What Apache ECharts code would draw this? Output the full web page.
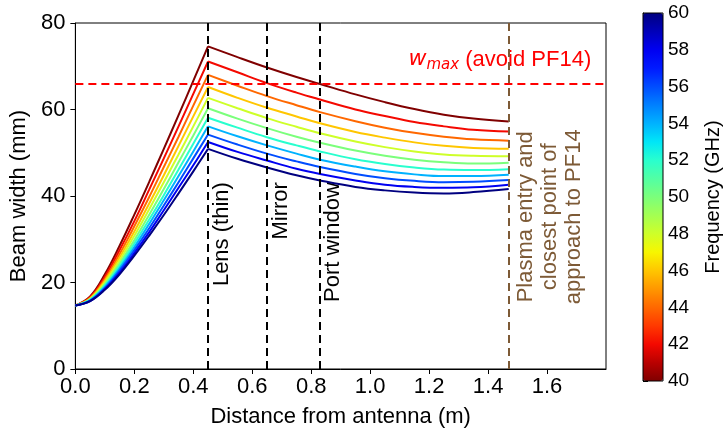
<!DOCTYPE html>
<html>
<head>
<meta charset="utf-8">
<script src="https://cdn.jsdelivr.net/npm/echarts@6/dist/echarts.min.js"></script>
<style>
html, body { margin: 0; padding: 0; background: #fff; }
#chart { width: 728px; height: 437px; }
</style>
</head>
<body>
<div id="chart"></div>
<script>
// frequencies (GHz) and the jet colour each line is drawn in
var freqs = [40, 42, 44, 46, 48, 50, 52, 54, 56, 58, 60];
var lineColors = ['#800000', '#f40900', '#ff6800', '#ffc600', '#ceff29', '#7bff7b',
                  '#29ffce', '#00b2ff', '#004dff', '#0000f1', '#000080'];

// antenna -> lens
var xRise = [0, 0.05, 0.1, 0.15, 0.2, 0.25, 0.3, 0.35, 0.4, 0.45];
var widthRise = [
    [14.7, 16.8, 21.9, 28.5, 35.7, 43.2, 50.9, 58.7, 66.6, 74.6],
    [14.7, 16.6, 21.3, 27.5, 34.2, 41.4, 48.7, 56.1, 63.6, 71.1],
    [14.7, 16.4, 20.8, 26.6, 33.0, 39.7, 46.7, 53.7, 60.9, 68.0],
    [14.7, 16.3, 20.4, 25.8, 31.8, 38.2, 44.8, 51.6, 58.4, 65.2],
    [14.7, 16.2, 20.0, 25.1, 30.8, 36.9, 43.2, 49.6, 56.1, 62.7],
    [14.7, 16.1, 19.6, 24.4, 29.8, 35.6, 41.6, 47.8, 54.0, 60.3],
    [14.7, 16.0, 19.3, 23.8, 29.0, 34.5, 40.2, 46.1, 52.1, 58.1],
    [14.7, 15.9, 19.0, 23.3, 28.2, 33.5, 39.0, 44.6, 50.3, 56.1],
    [14.7, 15.8, 18.7, 22.8, 27.5, 32.5, 37.8, 43.2, 48.7, 54.2],
    [14.7, 15.7, 18.5, 22.3, 26.8, 31.6, 36.7, 41.9, 47.1, 52.5],
    [14.7, 15.7, 18.3, 21.9, 26.2, 30.8, 35.6, 40.6, 45.7, 50.9]
];

// lens -> plasma entry
var xFall = [0.45, 0.55, 0.65, 0.75, 0.83, 0.95, 1.05, 1.15, 1.25, 1.35, 1.47];
var widthFall = [
    [74.6, 72.1, 69.7, 67.5, 65.9, 63.5, 61.7, 60.1, 58.8, 57.9, 57.2],
    [71.1, 68.6, 66.1, 63.9, 62.3, 60.0, 58.5, 57.1, 56.1, 55.3, 54.9],
    [68.0, 65.5, 63.1, 61.0, 59.4, 57.3, 55.8, 54.6, 53.7, 53.1, 52.8],
    [65.2, 62.7, 60.4, 58.4, 56.8, 54.8, 53.5, 52.4, 51.6, 51.1, 50.9],
    [62.7, 60.3, 58.0, 56.0, 54.5, 52.6, 51.3, 50.3, 49.6, 49.3, 49.2],
    [60.3, 57.9, 55.7, 53.7, 52.3, 50.5, 49.3, 48.4, 47.8, 47.5, 47.7],
    [58.1, 55.8, 53.6, 51.7, 50.3, 48.5, 47.4, 46.6, 46.1, 46.0, 46.2],
    [56.1, 53.8, 51.7, 49.8, 48.4, 46.8, 45.7, 45.0, 44.6, 44.6, 44.9],
    [54.2, 51.9, 49.8, 48.0, 46.7, 45.1, 44.1, 43.5, 43.2, 43.3, 43.7],
    [52.5, 50.2, 48.2, 46.3, 45.1, 43.6, 42.6, 42.1, 41.9, 42.0, 42.6],
    [50.9, 48.6, 46.6, 44.8, 43.6, 42.1, 41.3, 40.8, 40.6, 40.9, 41.6]
];

var lensX = 0.45, mirrorX = 0.65, portX = 0.83, plasmaX = 1.47;
var wMax = 66;

// jet colormap, 40 GHz (bottom) -> 60 GHz (top)
var barColors = ['#800000', '#b90000', '#f40900', '#ff3900', '#ff6800', '#ff9700', '#ffc600',
                 '#f7f600', '#ceff29', '#a4ff52', '#7bff7b', '#52ffa4', '#29ffce', '#00e6f7',
                 '#00b2ff', '#0080ff', '#004dff', '#001aff', '#0000f1', '#0000b9', '#000080'];

var FONT = 'Liberation Sans, Arial, sans-serif';
var brown = '#7d5a36';

var myChart = echarts.init(document.getElementById('chart'));

function pairs(xs, ys) {
    var res = [];
    for (var i = 0; i < xs.length; i++) res.push([xs[i], ys[i]]);
    return res;
}

var series = [];
freqs.forEach(function (f, i) {
    [[xRise, widthRise[i]], [xFall, widthFall[i]]].forEach(function (seg) {
        series.push({
            name: f + ' GHz',
            type: 'line',
            xAxisIndex: 0,
            yAxisIndex: 0,
            data: pairs(seg[0], seg[1]),
            smooth: 0.4,
            showSymbol: false,
            silent: true,
            lineStyle: {color: lineColors[i], width: 2},
            itemStyle: {color: lineColors[i]}
        });
    });
});

function vline(x, color) {
    return {xAxis: x, lineStyle: {color: color, type: [8, 5], width: 2}};
}

series.push({
    type: 'line',
    data: [],
    z: 10,
    silent: true,
    markLine: {
        symbol: 'none',
        silent: true,
        label: {show: false},
        animation: false,
        data: [
            vline(lensX, '#000'),
            vline(mirrorX, '#000'),
            vline(portX, '#000'),
            vline(plasmaX, brown),
            {yAxis: wMax, lineStyle: {color: '#ff0000', type: [8, 5], width: 2}}
        ]
    }
});

option = {
    animation: false,
    textStyle: {fontFamily: FONT},
    grid: [
        {left: 73, top: 23, width: 533, height: 346, show: true, borderColor: '#000', borderWidth: 1, containLabel: false},
        {left: 643, top: 13, width: 20, height: 368, show: true, borderColor: '#000', borderWidth: 1, z: 5, containLabel: false}
    ],
    xAxis: [
        {
            type: 'value', gridIndex: 0, min: 0, max: 1.8, interval: 0.2,
            name: 'Distance from antenna (m)', nameLocation: 'middle', nameGap: 37,
            nameTextStyle: {fontSize: 22, color: '#000', fontFamily: FONT},
            axisLine: {lineStyle: {color: '#000', width: 1}},
            axisTick: {show: true, inside: false, length: 5, lineStyle: {color: '#000'}},
            axisLabel: {fontSize: 22, color: '#000', margin: 7, showMaxLabel: false, fontFamily: FONT,
                formatter: function (v) { return v.toFixed(1); }},
            splitLine: {show: false}
        },
        {type: 'value', gridIndex: 1, min: 0, max: 1, show: false}
    ],
    yAxis: [
        {
            type: 'value', gridIndex: 0, min: 0, max: 80, interval: 20,
            name: 'Beam width (mm)', nameLocation: 'middle', nameGap: 44,
            nameTextStyle: {fontSize: 22, color: '#000', fontFamily: FONT},
            axisLine: {show: true, lineStyle: {color: '#000', width: 1}},
            axisTick: {show: true, inside: false, length: 5, lineStyle: {color: '#000'}},
            axisLabel: {fontSize: 22, color: '#000', margin: 10, fontFamily: FONT},
            splitLine: {show: false}
        },
        {
            type: 'value', gridIndex: 1, min: 40, max: 60, interval: 2, position: 'right',
            name: 'Frequency (GHz)', nameLocation: 'middle', nameGap: 40, nameRotate: 90,
            nameTextStyle: {fontSize: 20, color: '#000', fontFamily: FONT},
            axisLine: {show: true, lineStyle: {color: '#000', width: 1}},
            axisTick: {show: true, inside: false, length: 5, lineStyle: {color: '#000'}},
            axisLabel: {fontSize: 19, color: '#000', margin: 5, fontFamily: FONT},
            splitLine: {show: false}
        }
    ],
    visualMap: {
        type: 'continuous',
        min: 40,
        max: 60,
        seriesIndex: [],
        calculable: false,
        hoverLink: false,
        left: 643,
        top: 13,
        padding: 0,
        itemWidth: 20,
        itemHeight: 368,
        z: 1,
        inRange: {color: barColors}
    },
    series: series
};

myChart.setOption(option);

// annotations anchored to data positions
function px(x, y) { return myChart.convertToPixel({gridIndex: 0}, [x, y]); }
var noteTop = 43.2;
var pLens = px(lensX, noteTop), pMirror = px(mirrorX, noteTop), pPort = px(portX, noteTop);
var pPlasma = px(plasmaX, 35.2);
var pW = px(1.13, 68.5);

function vtext(p, dx, txt, color, align) {
    return {
        type: 'text', x: p[0] + dx, y: p[1], rotation: Math.PI / 2, silent: true,
        style: {text: txt, fill: color, font: '22px ' + FONT, align: align, verticalAlign: 'middle'}
    };
}

myChart.setOption({
    graphic: [
        vtext(pLens, 14, 'Lens (thin)', '#000', 'right'),
        vtext(pMirror, 14, 'Mirror', '#000', 'right'),
        vtext(pPort, 13, 'Port window', '#000', 'right'),
        {
            type: 'text', x: pPlasma[0] + 41, y: pPlasma[1], rotation: Math.PI / 2, silent: true,
            style: {text: 'Plasma entry and\nclosest point of\napproach to PF14', fill: brown,
                font: '22px ' + FONT, align: 'center', verticalAlign: 'middle', lineHeight: 24}
        },
        {
            type: 'text', x: pW[0], y: pW[1], silent: true,
            style: {
                text: '{w|w}{s|max}{n| (avoid PF14)}',
                align: 'left', verticalAlign: 'bottom',
                rich: {
                    w: {fill: '#ff0000', font: 'italic 22px DejaVu Sans', lineHeight: 26},
                    s: {fill: '#ff0000', font: 'italic 15px DejaVu Sans', lineHeight: 15, verticalAlign: 'bottom'},
                    n: {fill: '#ff0000', font: '22px ' + FONT, lineHeight: 26}
                }
            }
        }
    ]
});
</script>
</body>
</html>
